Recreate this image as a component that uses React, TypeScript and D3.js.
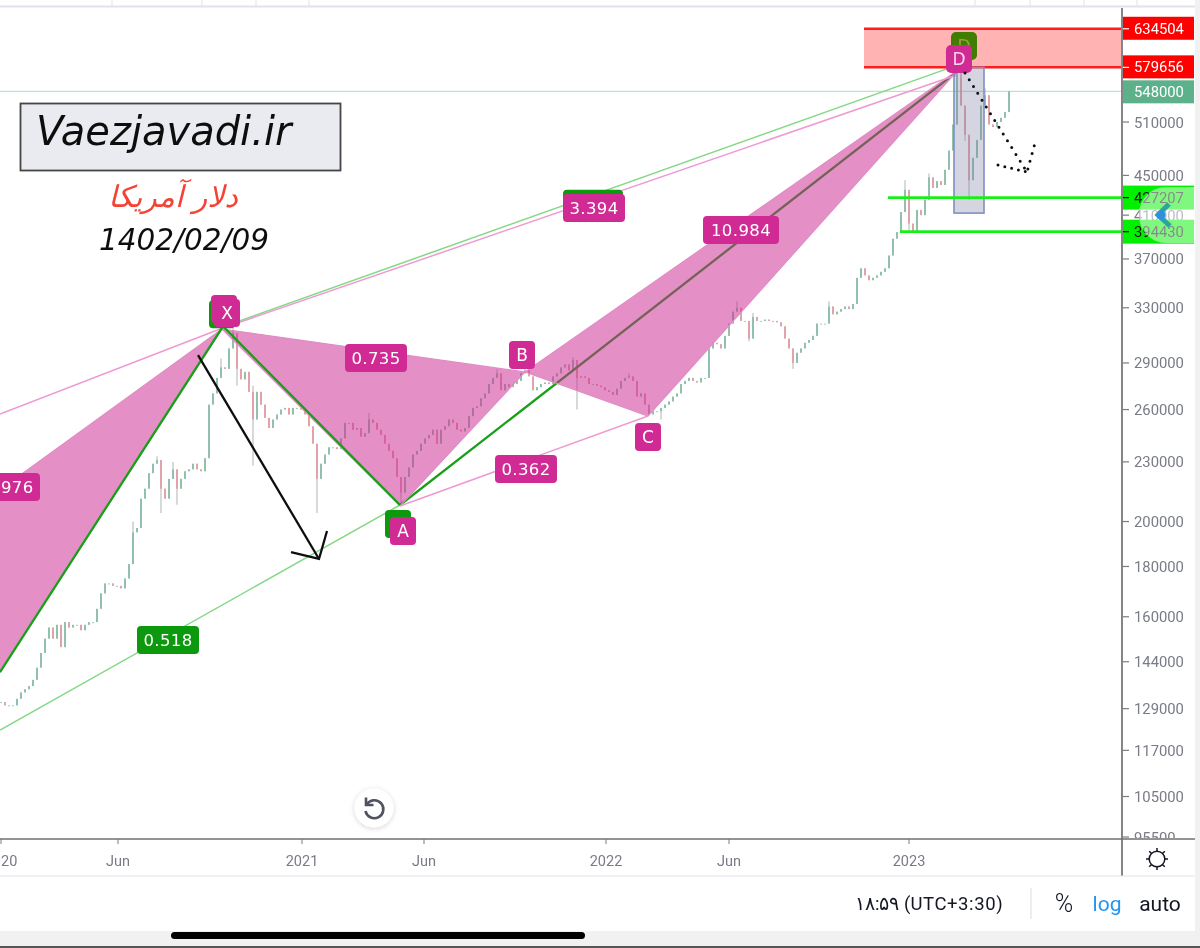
import React from "react";
import * as d3 from "d3";

// ---- candle series (thousands), one value per bar
const closes = [
131,130,130,130,132,134,135,136,138,142,147,152,156,152,157,149,158,156,157,157,155,157,158,158,163,169,173,173,172,172,171,
175,181,195,197,211,216,224,229,231,216,211,221,226,216,221,225,226,229,226,225,232,263,270,280,287,286,300,311,286,279,284,271,254,271,263,255,249,254,257,260,261,257,261,261,260,257,250,240,221,229,234,238,238,237,243,252,252,248,249,244,246,254,252,248,245,240,236,232,222,214,222,227,234,236,240,243,245,248,240,248,250,254,252,248,247,249,256,261,262,267,270,276,280,283,272,276,274,276,278,283,285,281,272,274,276,277,276,281,283,287,289,285,292,280,281,280,276,276,275,274,272,271,269,273,278,280,281,278,268,270,263,257,259,259,261,263,265,268,270,276,278,280,278,277,280,280,300,304,303,300,309,318,327,330,320,320,307,323,320,320,321,320,320,319,316,307,300,290,297,300,304,306,309,318,318,318,331,325,327,329,331,329,333,354,362,356,352,354,356,359,362,373,388,394,413,435,402,394,415,410,425,448,437,444,440,456,477,507,572,530,495,445,469,489,530,543,507,504,510,515,522,548,
];
const wickHighIndex = [33,39,43,55,58,63,92,124,131,143,157,184,188,207,226,232,239,240,246];
const wickHighValue = [200,233,230,293,320,275,258,286,292,294,283,335,326,335,445,452,592,565,552];
const wickLowIndex = [40,44,59,63,79,100,144,165,187,198,227,242,241];
const wickLowValue = [204,208,275,228,204,208,260,254,305,286,394,425,488];

// ---- axes
const priceTicks = [510000,450000,410000,370000,330000,290000,260000,230000,200000,180000,160000,144000,129000,117000,105000,95500];
const timeLabels = ["2020","Jun","2021","Jun","2022","Jun","2023"];
const timeIndex = [0,29.25,75.25,105.75,151.25,182,227];

// ---- pattern pivots [bar index, price]
const pinkWingLeft: [number, number][] = [[55.25,314000],[-25.25,181900],[-25.25,98000]];
const pinkWingMid: [number, number][] = [[55.25,314000],[99.75,207400],[131,283900]];
const pinkWingRight: [number, number][] = [[131,283900],[161.75,256100],[239.25,576000]];
const pinkLines: [number, number][][] = [
  [[-0.25,257300],[55.25,314500]],
  [[55.25,314500],[239.25,570000]],
  [[99.75,207400],[161.75,256100]],
];
const greenXA: [number, number][] = [[-0.25,140500],[55.5,316000],[99.75,207900]];
const greenAD: [number, number][] = [[99.75,207900],[239.25,575000]];
const greenThin: [number, number][][] = [
  [[-0.25,122700],[99.75,207900]],
  [[57.75,318000],[239.25,583000]],
];
const arrowShaft: [number, number][] = [[49.25,295400],[79.5,183200]];
const arrowHead: [number, number][] = [[72.5,186200],[79.5,183200],[81.5,195600]];
const dotted: [number, number][] = [[241,572000],[256.5,453600],[258.5,485500]];
const dotted2: [number, number][] = [[249.25,461000],[256.5,453600]];

const ratioLabels = [
  { text: "1.976", i: 2, p: 216900, c: "#d02c94", w: 62 },
  { text: "3.636", i: 148, p: 421000, c: "#089908", w: 60 },
  { text: "0.518", i: 41.75, p: 151500, c: "#089908", w: 62 },
  { text: "0.735", i: 93.75, p: 293400, c: "#d02c94", w: 62 },
  { text: "0.362", i: 131.25, p: 226200, c: "#d02c94", w: 62 },
  { text: "10.984", i: 185, p: 396000, c: "#d02c94", w: 76 },
  { text: "3.394", i: 148.25, p: 416900, c: "#d02c94", w: 62 },
];
const pointLabels = [
  { text: "C", i: 55.25, p: 325000, c: "#089908" },
  { text: "", i: 55.75, p: 329000, c: "#d02c94" },
  { text: "X", i: 56.5, p: 326000, c: "#d02c94" },
  { text: "C", i: 99.25, p: 198800, c: "#089908" },
  { text: "A", i: 100.5, p: 195600, c: "#d02c94" },
  { text: "B", i: 130.25, p: 295400, c: "#d02c94" },
  { text: "C", i: 161.75, p: 243800, c: "#d02c94" },
];
const dLabels = [
  { text: "D", i: 240.75, p: 609500, c: "#3f7d00", tc: "#9aa03a" },
  { text: "D", i: 239.5, p: 591000, c: "#d02c94", tc: "#f6d7ea" },
];

const zoneTop = 634504;
const zoneBottom = 579656;
const lastPrice = 548000;
const support = [427207, 394430];
const supportFrom = [221.75, 224.75];
const zoneFrom = 215.75;
const boxIndex = [238.25, 245.75];
const boxLow = 412000;

const FONT = "Roboto, sans-serif";
const DEJA = "'DejaVu Sans', sans-serif";
const GRAY = "#787b86";

export default function App() {
  const x = d3.scaleLinear().domain([0, 252]).range([1, 1009]);
  const y = d3.scaleLog().domain([510000, 95500]).range([122, 837]);
  const pt = (d: [number, number]): [number, number] => [x(d[0]), y(d[1])];
  const line = d3.line<[number, number]>().x((d) => x(d[0])).y((d) => y(d[1]));
  const bars = closes.map((c, i) => {
    const close = c * 1000;
    const open = (i === 0 ? c : closes[i - 1]) * 1000;
    const hIdx = wickHighIndex.indexOf(i);
    const lIdx = wickLowIndex.indexOf(i);
    const high = hIdx >= 0 ? wickHighValue[hIdx] * 1000 : Math.max(open, close);
    const low = lIdx >= 0 ? wickLowValue[lIdx] * 1000 : Math.min(open, close);
    return { i, open, close, high, low };
  });
  const poly = (p: [number, number][]) => p.map(pt).map((q) => q.join(",")).join(" ");
  const sun = d3.range(8).map((k) => (k * Math.PI) / 4);

  return (
    <svg width={1200} height={948} viewBox="0 0 1200 948" style={{ position: "absolute", left: 0, top: 0, background: "#fff" }}>
      <defs>
        <clipPath id="plot"><rect x={0} y={8} width={1121} height={830} /></clipPath>
        <clipPath id="scale"><rect x={1123} y={8} width={72} height={830} /></clipPath>
        <clipPath id="btn"><rect x={1123} y={180} width={71} height={70} /></clipPath>
        <filter id="sh" x="-50%" y="-50%" width="200%" height="200%">
          <feDropShadow dx="0" dy="1" stdDeviation="2.5" floodColor="#000" floodOpacity="0.18" />
        </filter>
        <filter id="soft" x="0" y="0" width="100%" height="100%" filterUnits="objectBoundingBox">
          <feGaussianBlur stdDeviation="0.4" />
        </filter>
      </defs>

      <g filter="url(#soft)">
        <rect x={0} y={0} width={1200} height={948} fill="#fff" />
        {/* top strip */}
        <rect x={0} y={5.5} width={1195} height={2} fill="#e0e3eb" />
        {[112, 202, 256, 309, 975, 1030, 1084, 1137].map((tx) => (
          <line key={tx} x1={tx} x2={tx} y1={0} y2={6} stroke="#e0e3eb" />
        ))}

        <g clipPath="url(#plot)">
          <line x1={0} x2={1122} y1={y(lastPrice)} y2={y(lastPrice)} stroke="#b5e6d0" strokeWidth={1.2} />

          {/* candles */}
          {bars.map((b) => {
            const up = b.close >= b.open;
            const col = up ? "#74b79b" : "#e58b96";
            const top = y(Math.max(b.open, b.close));
            const bot = y(Math.min(b.open, b.close));
            return (
              <g key={b.i}>
                <line x1={x(b.i)} x2={x(b.i)} y1={y(b.high)} y2={y(b.low)} stroke="#97a5a0" strokeWidth={0.8} />
                <rect x={x(b.i) - 0.7} y={top} width={1.4} height={Math.max(1, bot - top)} fill={col} />
              </g>
            );
          })}

          {/* green pattern, under the pink fill */}
          {greenThin.map((l, k) => (
            <path key={k} d={line(l) || ""} fill="none" stroke="#84d884" strokeWidth={1.5} />
          ))}
          <path d={line(greenAD) || ""} fill="none" stroke="#18a018" strokeWidth={2.3} />

          {/* pink pattern */}
          {[pinkWingLeft, pinkWingMid, pinkWingRight].map((p, k) => (
            <polygon key={k} points={poly(p)} fill="#cb2a92" fillOpacity={0.52} stroke="#e08cc4" strokeWidth={1.2} />
          ))}
          {pinkLines.map((l, k) => (
            <path key={k} d={line(l) || ""} fill="none" stroke="#ee9ad2" strokeWidth={1.5} />
          ))}
          <path d={line(greenXA) || ""} fill="none" stroke="#18a018" strokeWidth={2.3} />

          {/* arrow */}
          <path d={line(arrowShaft) || ""} fill="none" stroke="#111" strokeWidth={2.3} />
          <path d={line(arrowHead) || ""} fill="none" stroke="#111" strokeWidth={2.3} />

          {/* ratio labels */}
          {ratioLabels.map((l, k) => (
            <g key={k} transform={`translate(${x(l.i)},${y(l.p)})`}>
              <rect x={-l.w / 2} y={-14} width={l.w} height={28} rx={4} fill={l.c} />
              <text textAnchor="middle" y={6} fontFamily={DEJA} fontSize={16.5} letterSpacing={0.4} fill="#fff">{l.text}</text>
            </g>
          ))}
          {pointLabels.map((l, k) => (
            <g key={k} transform={`translate(${x(l.i)},${y(l.p)})`}>
              <rect x={-13} y={-14} width={26} height={28} rx={4} fill={l.c} />
              <text textAnchor="middle" y={6} fontFamily={DEJA} fontSize={17} fill="#fff">{l.text}</text>
            </g>
          ))}

          {/* red zone */}
          <rect x={x(zoneFrom)} y={y(zoneTop)} width={1122 - x(zoneFrom)} height={y(zoneBottom) - y(zoneTop)} fill="#ffb3b3" />
          <line x1={x(zoneFrom)} x2={1122} y1={y(zoneTop)} y2={y(zoneTop)} stroke="#ff1a1a" strokeWidth={2.5} />
          <line x1={x(zoneFrom)} x2={1122} y1={y(zoneBottom)} y2={y(zoneBottom)} stroke="#ff1a1a" strokeWidth={2.5} />

          {/* box */}
          <rect x={x(boxIndex[0])} y={y(zoneBottom)} width={x(boxIndex[1]) - x(boxIndex[0])} height={y(boxLow) - y(zoneBottom)}
            fill="#787ba0" fillOpacity={0.32} stroke="#7f8fc4" strokeWidth={1.6} />

          {/* supports */}
          {support.map((s, k) => (
            <line key={k} x1={x(supportFrom[k])} x2={1122} y1={y(s)} y2={y(s)} stroke="#19f019" strokeWidth={2.6} />
          ))}

          {/* D labels */}
          {dLabels.map((l, k) => (
            <g key={k} transform={`translate(${x(l.i)},${y(l.p)})`}>
              <rect x={-13} y={-14} width={26} height={28} rx={5} fill={l.c} />
              <text textAnchor="middle" y={6} fontFamily={DEJA} fontSize={17} fill={l.tc}>{l.text}</text>
            </g>
          ))}

          {/* dotted forecast */}
          <path d={line(dotted) || ""} fill="none" stroke="#111" strokeWidth={3} strokeLinecap="round" strokeDasharray="0 8" />
          <path d={line(dotted2) || ""} fill="none" stroke="#111" strokeWidth={3} strokeLinecap="round" strokeDasharray="0 7" />
        </g>

        {/* watermark */}
        <rect x={20.5} y={103.5} width={320} height={67} fill="#e9ebf0" stroke="#444" strokeWidth={1.8} />
        <text x={36} y={145} fontFamily={DEJA} fontStyle="italic" fontSize={40} fill="#111">Vaezjavadi.ir</text>
        <text x={173} y={207} textAnchor="middle" fontFamily={DEJA} fontStyle="italic" fontSize={30} fill="#f44336" direction="rtl">دلار آمریکا</text>
        <text x={184} y={250} textAnchor="middle" fontFamily={DEJA} fontStyle="italic" fontSize={29.5} fill="#111">1402/02/09</text>

        {/* price scale */}
        <g clipPath="url(#scale)">
          {priceTicks.map((t) => (
            <g key={t}>
              <line x1={1122} x2={1129} y1={y(t)} y2={y(t)} stroke={GRAY} strokeWidth={1.2} />
              <text x={1134} y={y(t) + 5.5} fontFamily={FONT} fontSize={14.8} fill={GRAY}>{t}</text>
            </g>
          ))}
        </g>
        {[zoneTop, zoneBottom].map((p) => (
          <g key={p}>
            <rect x={1122} y={y(p) - 12} width={72} height={23} fill="#ff0000" />
            <line x1={1122} x2={1129} y1={y(p)} y2={y(p)} stroke="#fff" strokeWidth={1.2} />
            <text x={1134} y={y(p) + 5} fontFamily={FONT} fontSize={14.8} fill="#fff">{p}</text>
          </g>
        ))}
        <rect x={1122} y={y(lastPrice) - 11} width={72} height={23} fill="#5cb08a" />
        <text x={1134} y={y(lastPrice) + 5.5} fontFamily={FONT} fontSize={14.8} fill="#fff">{lastPrice}</text>
        {support.map((p) => (
          <g key={p}>
            <rect x={1122} y={y(p) - 12} width={72} height={24} fill="#00f000" />
            <line x1={1122} x2={1129} y1={y(p)} y2={y(p)} stroke="#111" strokeWidth={1.2} />
            <text x={1134} y={y(p) + 5.5} fontFamily={FONT} fontSize={14.8} fill="#111">{p}</text>
          </g>
        ))}
        <g clipPath="url(#btn)">
          <rect x={1139} y={187} width={90} height={56} rx={27} fill="#fff" fillOpacity={0.5} />
        </g>
        <path d="M1169 204 L1158 215 L1170 226" fill="none" stroke="#2aa6a0" strokeWidth={5} />
        <circle cx={1161} cy={215} r={4.5} fill="#2f8fe0" />

        {/* axis frame */}
        <line x1={1122} x2={1122} y1={8} y2={876} stroke="#858585" strokeWidth={2} />
        <line x1={0} x2={1195} y1={839} y2={839} stroke="#6f6f6f" strokeWidth={1.6} />
        <line x1={0} x2={1195} y1={876} y2={876} stroke="#e0e3eb" strokeWidth={1.2} />
        {timeLabels.map((t, k) => (
          <g key={k}>
            <line x1={x(timeIndex[k])} x2={x(timeIndex[k])} y1={839} y2={844} stroke={GRAY} />
            <text x={x(timeIndex[k])} y={866} textAnchor="middle" fontFamily={FONT} fontSize={14.5} fill={GRAY}>{t}</text>
          </g>
        ))}

        {/* undo */}
        <circle cx={374} cy={808} r={19.5} fill="#fff" filter="url(#sh)" />
        <path d="M367 804 A9 9 0 1 1 365.5 811" fill="none" stroke="#50535e" strokeWidth={2.6} />
        <path d="M366 797.5 L366 805 L373.5 805" fill="none" stroke="#50535e" strokeWidth={2.6} />

        {/* sun */}
        <circle cx={1157} cy={859} r={7.8} fill="none" stroke="#131722" strokeWidth={1.5} />
        {sun.map((a, k) => (
          <line key={k} x1={1157 + Math.cos(a) * 8} y1={859 + Math.sin(a) * 8} x2={1157 + Math.cos(a) * 11} y2={859 + Math.sin(a) * 11} stroke="#131722" strokeWidth={1.5} />
        ))}

        {/* bottom bar */}
        <text x={855} y={910} fontFamily={FONT} fontSize={18.5} letterSpacing={0.6} fill="#131722" direction="ltr">۱۸:۵۹ (UTC+3:30)</text>
        <line x1={1031} x2={1031} y1={888} y2={919} stroke="#e0e3eb" strokeWidth={1.2} />
        <text x={1064} y={912} textAnchor="middle" fontFamily={FONT} fontSize={25} fontWeight={300} fill="#131722">%</text>
        <text x={1107} y={911} textAnchor="middle" fontFamily={FONT} fontSize={21} fill="#2196f3">log</text>
        <text x={1160} y={911} textAnchor="middle" fontFamily={FONT} fontSize={21} fill="#131722">auto</text>

        {/* device chrome */}
        <rect x={1195} y={0} width={5} height={948} fill="#f1f1f1" />
        <rect x={0} y={931} width={1200} height={15} fill="#f1f1f1" />
        <rect x={0} y={946} width={1200} height={2} fill="#555" />
        <rect x={171} y={932} width={414} height={7} rx={3.5} fill="#000" />
      </g>
    </svg>
  );
}
